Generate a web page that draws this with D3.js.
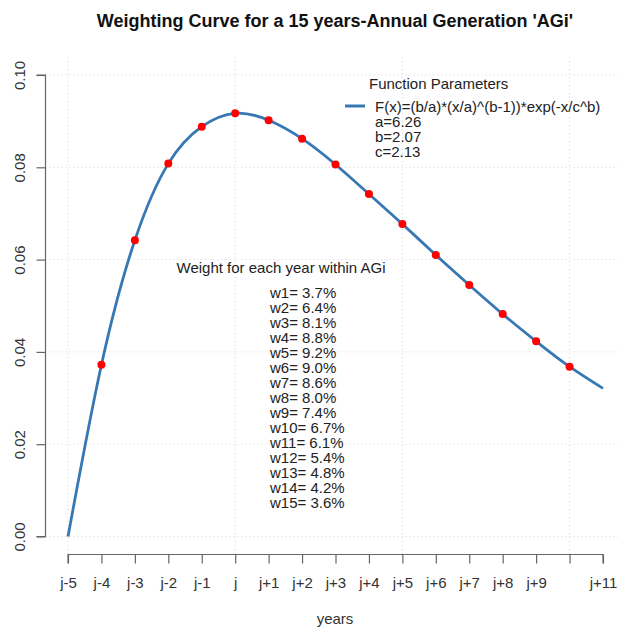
<!DOCTYPE html>
<html>
<head>
<meta charset="utf-8">
<script src="https://cdn.jsdelivr.net/npm/d3@7"></script>
<style>
  body { margin: 0; background: #fff; }
  svg { font-family: "Liberation Sans", Arial, sans-serif; }
</style>
</head>
<body>
<div id="chart"></div>
<script>
// tick labels on the x axis (R dropped "j+10" for overlap, so it is blank)
const xLabels = ["j-5", "j-4", "j-3", "j-2", "j-1", "j", "j+1", "j+2", "j+3",
                 "j+4", "j+5", "j+6", "j+7", "j+8", "j+9", "", "j+11"];
const yTicks = [0, 0.02, 0.04, 0.06, 0.08, 0.10];

// curve height at x = 0 .. 16
const curveY = [0, 0.0372, 0.0642, 0.0808, 0.0888, 0.0917, 0.0902, 0.0862, 0.0806,
                0.0742, 0.0677, 0.0610, 0.0545, 0.0482, 0.0423, 0.0368, 0.0321];
// weights printed in the chart (%)
const weights = [3.7, 6.4, 8.1, 8.8, 9.2, 9.0, 8.6, 8.0, 7.4, 6.7, 6.1, 5.4, 4.8, 4.2, 3.6];
const params = ["a=6.26", "b=2.07", "c=2.13"];

const W = 618, H = 628;
const svg = d3.select("#chart").append("svg").attr("width", W).attr("height", H);

let x = d3.scaleLinear().domain([0, 16]).range([68, 603]);
let y = d3.scaleLinear().domain([0, 0.1]).range([536.5, 75]);

const plotLeft = 45.5, plotBottom = 554.5, plotTop = 57;

// dotted grid
let grid = svg.append("g").attr("stroke", "#d3d3d3").attr("stroke-dasharray", "1,3");
grid.selectAll("line.h").data(yTicks).enter().append("line")
    .attr("x1", plotLeft).attr("x2", W)
    .attr("y1", d => y(d)).attr("y2", d => y(d));
grid.selectAll("line.v").data([0, 5, 10, 15]).enter().append("line")
    .attr("x1", d => x(d)).attr("x2", d => x(d))
    .attr("y1", plotTop).attr("y2", plotBottom);

// axes
let xAxis = d3.axisBottom(x)
    .tickValues(d3.range(xLabels.length))
    .tickFormat(i => xLabels[i])
    .tickSize(9).tickPadding(14);
let gx = svg.append("g").attr("transform", `translate(0,${plotBottom})`).call(xAxis);

let yAxis = d3.axisLeft(y)
    .tickValues(yTicks)
    .tickFormat(d3.format(".2f"))
    .tickSize(9);
let gy = svg.append("g").attr("transform", `translate(${plotLeft},0)`).call(yAxis);
gy.selectAll(".tick text")
    .attr("x", 0).attr("dy", 0)
    .attr("transform", "translate(-20.5,0) rotate(-90)")
    .attr("text-anchor", "middle");

[gx, gy].forEach(g => {
    g.select(".domain").attr("stroke", "#666").attr("stroke-width", 1.2);
    g.selectAll(".tick line").attr("stroke", "#666").attr("stroke-width", 1.2);
    g.selectAll(".tick text").attr("fill", "#333").style("font-size", "15px")
        .style("font-family", "Liberation Sans, Arial, sans-serif");
});
// R draws the axis line only between the first and last tick
gx.select(".domain").attr("d", `M${x(0)},9V0H${x(16)}V9`);
gy.select(".domain").attr("d", `M-9,${y(0.1)}H0V${y(0)}H-9`);

// curve
let line = d3.line()
    .x((d, i) => x(i))
    .y(d => y(d))
    .curve(d3.curveNatural);
svg.append("path")
    .datum(curveY)
    .attr("d", line)
    .attr("fill", "none")
    .attr("stroke", "#3778b4")
    .attr("stroke-width", 2.8);

// points for each year
svg.append("g").selectAll("circle")
    .data(curveY.slice(1, 16))
    .enter().append("circle")
    .attr("cx", (d, i) => x(i + 1))
    .attr("cy", d => y(d))
    .attr("r", 4)
    .attr("fill", "#ff0000");

// title and axis label
svg.append("text")
    .attr("x", 335).attr("y", 27)
    .attr("text-anchor", "middle")
    .style("font-size", "18px").style("font-weight", "bold")
    .attr("fill", "#111")
    .text("Weighting Curve for a 15 years-Annual Generation 'AGi'");

svg.append("text")
    .attr("x", 335).attr("y", 624)
    .attr("text-anchor", "middle")
    .style("font-size", "15px")
    .attr("fill", "#333")
    .text("years");

// legend
let legend = svg.append("g").attr("fill", "#222");
legend.append("text").attr("x", 369).attr("y", 88.5)
    .style("font-size", "15px").text("Function Parameters");
legend.append("line")
    .attr("x1", 345).attr("x2", 365).attr("y1", 106).attr("y2", 106)
    .attr("stroke", "#3778b4").attr("stroke-width", 3);
legend.append("text").attr("x", 375).attr("y", 111.5)
    .style("font-size", "15px").text("F(x)=(b/a)*(x/a)^(b-1))*exp(-x/c^b)");
legend.selectAll("text.p").data(params).enter().append("text")
    .attr("x", 375).attr("y", (d, i) => 127 + i * 14.8)
    .style("font-size", "15px").text(d => d);

// weights block
let wb = svg.append("g").attr("fill", "#222");
wb.append("text").attr("x", 281).attr("y", 272.5)
    .attr("text-anchor", "middle")
    .style("font-size", "15px").text("Weight for each year within AGi");
wb.selectAll("text.w").data(weights).enter().append("text")
    .attr("x", 270).attr("y", (d, i) => 297.5 + i * 15)
    .style("font-size", "15px")
    .text((d, i) => `w${i + 1}= ${d.toFixed(1)}%`);
</script>
</body>
</html>
